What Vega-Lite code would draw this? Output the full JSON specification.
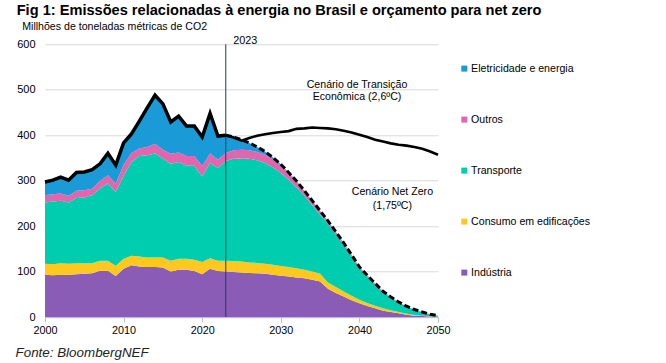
{
  "$schema": "https://vega.github.io/schema/vega-lite/v6.json",
  "width": 393,
  "height": 272.7,
  "autosize": {"type": "none"},
  "padding": {"left": 45, "top": 44.3, "right": 228, "bottom": 46},
  "title": {
    "text": "Fig 1: Emissões relacionadas à energia no Brasil e orçamento para net zero",
    "anchor": "start",
    "frame": "group",
    "dx": -28.3,
    "offset": 4,
    "font": "Liberation Sans",
    "fontSize": 14.6,
    "fontWeight": "bold",
    "color": "#000000"
  },
  "config": {
    "view": {"stroke": null},
    "font": "Liberation Sans"
  },
  "datasets": {
    "emissions": [
      {"year": 2000, "Indústria": 93, "Consumo em edificações": 24, "Transporte": 135, "Outros": 16, "Eletricidade e energia": 29},
      {"year": 2001, "Indústria": 92, "Consumo em edificações": 24, "Transporte": 138, "Outros": 16, "Eletricidade e energia": 31},
      {"year": 2002, "Indústria": 93, "Consumo em edificações": 25, "Transporte": 138, "Outros": 16, "Eletricidade e energia": 36},
      {"year": 2003, "Indústria": 93, "Consumo em edificações": 24, "Transporte": 135, "Outros": 15, "Eletricidade e energia": 34},
      {"year": 2004, "Indústria": 94, "Consumo em edificações": 24, "Transporte": 144, "Outros": 16, "Eletricidade e energia": 40},
      {"year": 2005, "Indústria": 95, "Consumo em edificações": 23, "Transporte": 145, "Outros": 16, "Eletricidade e energia": 40},
      {"year": 2006, "Indústria": 96, "Consumo em edificações": 22, "Transporte": 150, "Outros": 14, "Eletricidade e energia": 42},
      {"year": 2007, "Indústria": 102, "Consumo em edificações": 22, "Transporte": 159, "Outros": 16, "Eletricidade e energia": 38},
      {"year": 2008, "Indústria": 102, "Consumo em edificações": 22, "Transporte": 170, "Outros": 18, "Eletricidade e energia": 48},
      {"year": 2009, "Indústria": 90, "Consumo em edificações": 23, "Transporte": 162, "Outros": 19, "Eletricidade e energia": 40},
      {"year": 2010, "Indústria": 106, "Consumo em edificações": 22, "Transporte": 183, "Outros": 24, "Eletricidade e energia": 48},
      {"year": 2011, "Indústria": 114, "Consumo em edificações": 21, "Transporte": 206, "Outros": 20, "Eletricidade e energia": 42},
      {"year": 2012, "Indústria": 111, "Consumo em edificações": 22, "Transporte": 221, "Outros": 17, "Eletricidade e energia": 60},
      {"year": 2013, "Indústria": 110, "Consumo em edificações": 21, "Transporte": 225, "Outros": 18, "Eletricidade e energia": 86},
      {"year": 2014, "Indústria": 110, "Consumo em edificações": 21, "Transporte": 229, "Outros": 21, "Eletricidade e energia": 107},
      {"year": 2015, "Indústria": 109, "Consumo em edificações": 22, "Transporte": 218, "Outros": 19, "Eletricidade e energia": 101},
      {"year": 2016, "Indústria": 100, "Consumo em edificações": 24, "Transporte": 213, "Outros": 22, "Eletricidade e energia": 70},
      {"year": 2017, "Indústria": 104, "Consumo em edificações": 24, "Transporte": 213, "Outros": 21, "Eletricidade e energia": 80},
      {"year": 2018, "Indústria": 104, "Consumo em edificações": 24, "Transporte": 205, "Outros": 21, "Eletricidade e energia": 66},
      {"year": 2019, "Indústria": 101, "Consumo em edificações": 25, "Transporte": 207, "Outros": 21, "Eletricidade e energia": 66},
      {"year": 2020, "Indústria": 94, "Consumo em edificações": 27, "Transporte": 188, "Outros": 23, "Eletricidade e energia": 64},
      {"year": 2021, "Indústria": 106, "Consumo em edificações": 23, "Transporte": 210, "Outros": 21, "Eletricidade e energia": 88},
      {"year": 2022, "Indústria": 101, "Consumo em edificações": 23, "Transporte": 204, "Outros": 18, "Eletricidade e energia": 52},
      {"year": 2023, "Indústria": 100, "Consumo em edificações": 24, "Transporte": 219, "Outros": 18, "Eletricidade e energia": 39, "transicao": 400},
      {"year": 2024, "Indústria": 99, "Consumo em edificações": 24, "Transporte": 225, "Outros": 19, "Eletricidade e energia": 29, "transicao": 395},
      {"year": 2025, "Indústria": 98, "Consumo em edificações": 24, "Transporte": 227, "Outros": 19, "Eletricidade e energia": 22, "transicao": 388},
      {"year": 2026, "Indústria": 97, "Consumo em edificações": 23, "Transporte": 228, "Outros": 19, "Eletricidade e energia": 16, "transicao": 394},
      {"year": 2027, "Indústria": 96, "Consumo em edificações": 23, "Transporte": 226, "Outros": 18, "Eletricidade e energia": 11, "transicao": 399},
      {"year": 2028, "Indústria": 95, "Consumo em edificações": 22, "Transporte": 222, "Outros": 18, "Eletricidade e energia": 7, "transicao": 402},
      {"year": 2029, "Indústria": 93, "Consumo em edificações": 22, "Transporte": 214, "Outros": 18, "Eletricidade e energia": 4, "transicao": 405},
      {"year": 2030, "Indústria": 91, "Consumo em edificações": 21, "Transporte": 205, "Outros": 16, "Eletricidade e energia": 3, "transicao": 407},
      {"year": 2031, "Indústria": 89, "Consumo em edificações": 21, "Transporte": 192, "Outros": 14, "Eletricidade e energia": 2, "transicao": 409},
      {"year": 2032, "Indústria": 87, "Consumo em edificações": 20, "Transporte": 178, "Outros": 12, "Eletricidade e energia": 2, "transicao": 414},
      {"year": 2033, "Indústria": 85, "Consumo em edificações": 19, "Transporte": 163, "Outros": 10, "Eletricidade e energia": 1, "transicao": 415},
      {"year": 2034, "Indústria": 82, "Consumo em edificações": 18, "Transporte": 146, "Outros": 9, "Eletricidade e energia": 1, "transicao": 417},
      {"year": 2035, "Indústria": 78, "Consumo em edificações": 17, "Transporte": 130, "Outros": 8, "Eletricidade e energia": 1, "transicao": 416},
      {"year": 2036, "Indústria": 62, "Consumo em edificações": 14, "Transporte": 129, "Outros": 6, "Eletricidade e energia": 0.5, "transicao": 415},
      {"year": 2037, "Indústria": 53, "Consumo em edificações": 13, "Transporte": 116, "Outros": 5, "Eletricidade e energia": 0.5, "transicao": 413},
      {"year": 2038, "Indústria": 45, "Consumo em edificações": 11, "Transporte": 103, "Outros": 4, "Eletricidade e energia": 0.3, "transicao": 410},
      {"year": 2039, "Indústria": 37, "Consumo em edificações": 10, "Transporte": 86, "Outros": 3.5, "Eletricidade e energia": 0.3, "transicao": 406},
      {"year": 2040, "Indústria": 30, "Consumo em edificações": 8, "Transporte": 69, "Outros": 3, "Eletricidade e energia": 0.2, "transicao": 401},
      {"year": 2041, "Indústria": 24, "Consumo em edificações": 7, "Transporte": 58, "Outros": 2.5, "Eletricidade e energia": 0.2, "transicao": 396},
      {"year": 2042, "Indústria": 19, "Consumo em edificações": 6, "Transporte": 47, "Outros": 2, "Eletricidade e energia": 0.1, "transicao": 390},
      {"year": 2043, "Indústria": 14, "Consumo em edificações": 5, "Transporte": 36, "Outros": 1.5, "Eletricidade e energia": 0.1, "transicao": 386},
      {"year": 2044, "Indústria": 11, "Consumo em edificações": 4, "Transporte": 28, "Outros": 1, "Eletricidade e energia": 0, "transicao": 382},
      {"year": 2045, "Indústria": 8, "Consumo em edificações": 3, "Transporte": 21, "Outros": 1, "Eletricidade e energia": 0, "transicao": 379},
      {"year": 2046, "Indústria": 5, "Consumo em edificações": 2, "Transporte": 16, "Outros": 0.7, "Eletricidade e energia": 0, "transicao": 377},
      {"year": 2047, "Indústria": 3, "Consumo em edificações": 1.5, "Transporte": 11.5, "Outros": 0.5, "Eletricidade e energia": 0, "transicao": 374},
      {"year": 2048, "Indústria": 2, "Consumo em edificações": 1, "Transporte": 7.5, "Outros": 0.4, "Eletricidade e energia": 0, "transicao": 370},
      {"year": 2049, "Indústria": 1, "Consumo em edificações": 0.5, "Transporte": 4.2, "Outros": 0.3, "Eletricidade e energia": 0, "transicao": 364},
      {"year": 2050, "Indústria": 0.5, "Consumo em edificações": 0.2, "Transporte": 2, "Outros": 0.2, "Eletricidade e energia": 0, "transicao": 357}
    ],
    "sectors": [
      {"sector": "Indústria", "rank": 1},
      {"sector": "Consumo em edificações", "rank": 2},
      {"sector": "Transporte", "rank": 3},
      {"sector": "Outros", "rank": 4},
      {"sector": "Eletricidade e energia", "rank": 5}
    ],
    "notes": [
      {"year": 2039.7, "value": 510, "label": "Cenário de Transição"},
      {"year": 2039.7, "value": 483, "label": "Econômica (2,6ºC)"},
      {"year": 2044.2, "value": 274, "label": "Cenário Net Zero"},
      {"year": 2044.2, "value": 245, "label": "(1,75ºC)"}
    ],
    "marker": [
      {"year": 2023, "value": 600, "label": "2023"}
    ]
  },
  "layer": [
    {
      "data": {"name": "emissions"},
      "transform": [
        {"fold": ["Indústria", "Consumo em edificações", "Transporte", "Outros", "Eletricidade e energia"], "as": ["sector", "value"]},
        {"lookup": "sector", "from": {"data": {"name": "sectors"}, "key": "sector", "fields": ["rank"]}}
      ],
      "mark": {"type": "area", "interpolate": "linear"},
      "encoding": {
        "x": {
          "field": "year", "type": "quantitative",
          "scale": {"domain": [2000, 2050], "nice": false, "zero": false},
          "axis": {
            "values": [2000, 2010, 2020, 2030, 2040, 2050],
            "format": "d",
            "grid": false,
            "labelFlush": false,
            "domainColor": "#BFBFBF",
            "tickColor": "#BFBFBF",
            "tickSize": 5,
            "labelPadding": 2,
            "labelFontSize": 10.8,
            "labelColor": "#000000",
            "labelFont": "Liberation Sans",
            "title": "Fonte: BloombergNEF",
            "titleX": -30,
            "titleY": 35,
            "titleAlign": "left",
            "titleBaseline": "middle",
            "titleFont": "Liberation Sans",
            "titleFontSize": 13.4,
            "titleFontStyle": "italic",
            "titleFontWeight": "normal",
            "titleColor": "#222222"
          }
        },
        "y": {
          "field": "value", "type": "quantitative", "stack": "zero",
          "scale": {"domain": [0, 600], "nice": false},
          "axis": {
            "values": [0, 100, 200, 300, 400, 500, 600],
            "grid": true,
            "gridColor": "#D9D9D9",
            "domain": false,
            "ticks": false,
            "labelPadding": 10,
            "labelFontSize": 11,
            "labelColor": "#000000",
            "labelFont": "Liberation Sans",
            "title": "Millhões de toneladas métricas de CO2",
            "titleAngle": 0,
            "titleX": -23.3,
            "titleY": -17.6,
            "titleAlign": "left",
            "titleBaseline": "middle",
            "titleFont": "Liberation Sans",
            "titleFontSize": 10.6,
            "titleFontWeight": "normal",
            "titleColor": "#000000"
          }
        },
        "color": {
          "field": "sector", "type": "nominal",
          "scale": {
            "domain": ["Eletricidade e energia", "Outros", "Transporte", "Consumo em edificações", "Indústria"],
            "range": ["#1A9BD7", "#E266AE", "#00CDB0", "#FFC81E", "#8A5CB6"]
          },
          "legend": {
            "title": null,
            "orient": "none",
            "legendX": 414,
            "legendY": 19,
            "symbolType": "square",
            "symbolSize": 36,
            "symbolStrokeWidth": 0,
            "labelFont": "Liberation Sans",
            "labelFontSize": 10.6,
            "labelColor": "#000000",
            "labelOffset": 1.5,
            "rowPadding": 40,
            "padding": 0
          }
        },
        "order": {"field": "rank", "type": "quantitative"}
      }
    },
    {
      "data": {"name": "marker"},
      "mark": {"type": "rule", "color": "#203864", "strokeWidth": 1},
      "encoding": {"x": {"field": "year", "type": "quantitative"}}
    },
    {
      "data": {"name": "emissions"},
      "transform": [
        {"fold": ["Indústria", "Consumo em edificações", "Transporte", "Outros", "Eletricidade e energia"], "as": ["sector", "value"]},
        {"aggregate": [{"op": "sum", "field": "value", "as": "total"}], "groupby": ["year"]},
        {"filter": "datum.year >= 2023"}
      ],
      "mark": {"type": "line", "color": "#000000", "strokeWidth": 3, "strokeDash": [6, 3]},
      "encoding": {
        "x": {"field": "year", "type": "quantitative"},
        "y": {"field": "total", "type": "quantitative"}
      }
    },
    {
      "data": {"name": "emissions"},
      "transform": [{"filter": "isValid(datum.transicao)"}],
      "mark": {"type": "line", "color": "#000000", "strokeWidth": 2.6},
      "encoding": {
        "x": {"field": "year", "type": "quantitative"},
        "y": {"field": "transicao", "type": "quantitative"}
      }
    },
    {
      "data": {"name": "emissions"},
      "transform": [
        {"fold": ["Indústria", "Consumo em edificações", "Transporte", "Outros", "Eletricidade e energia"], "as": ["sector", "value"]},
        {"aggregate": [{"op": "sum", "field": "value", "as": "total"}], "groupby": ["year"]},
        {"filter": "datum.year <= 2023"}
      ],
      "mark": {"type": "line", "color": "#000000", "strokeWidth": 3.5, "strokeJoin": "miter"},
      "encoding": {
        "x": {"field": "year", "type": "quantitative"},
        "y": {"field": "total", "type": "quantitative"}
      }
    },
    {
      "data": {"name": "marker"},
      "mark": {"type": "text", "align": "left", "baseline": "alphabetic", "dx": 7.5, "dy": -0.5, "font": "Liberation Sans", "fontSize": 10.8, "color": "#000000"},
      "encoding": {
        "x": {"field": "year", "type": "quantitative"},
        "y": {"field": "value", "type": "quantitative"},
        "text": {"field": "label"}
      }
    },
    {
      "data": {"name": "notes"},
      "mark": {"type": "text", "align": "center", "baseline": "middle", "font": "Liberation Sans", "fontSize": 10.6, "color": "#000000"},
      "encoding": {
        "x": {"field": "year", "type": "quantitative"},
        "y": {"field": "value", "type": "quantitative"},
        "text": {"field": "label"}
      }
    }
  ]
}
